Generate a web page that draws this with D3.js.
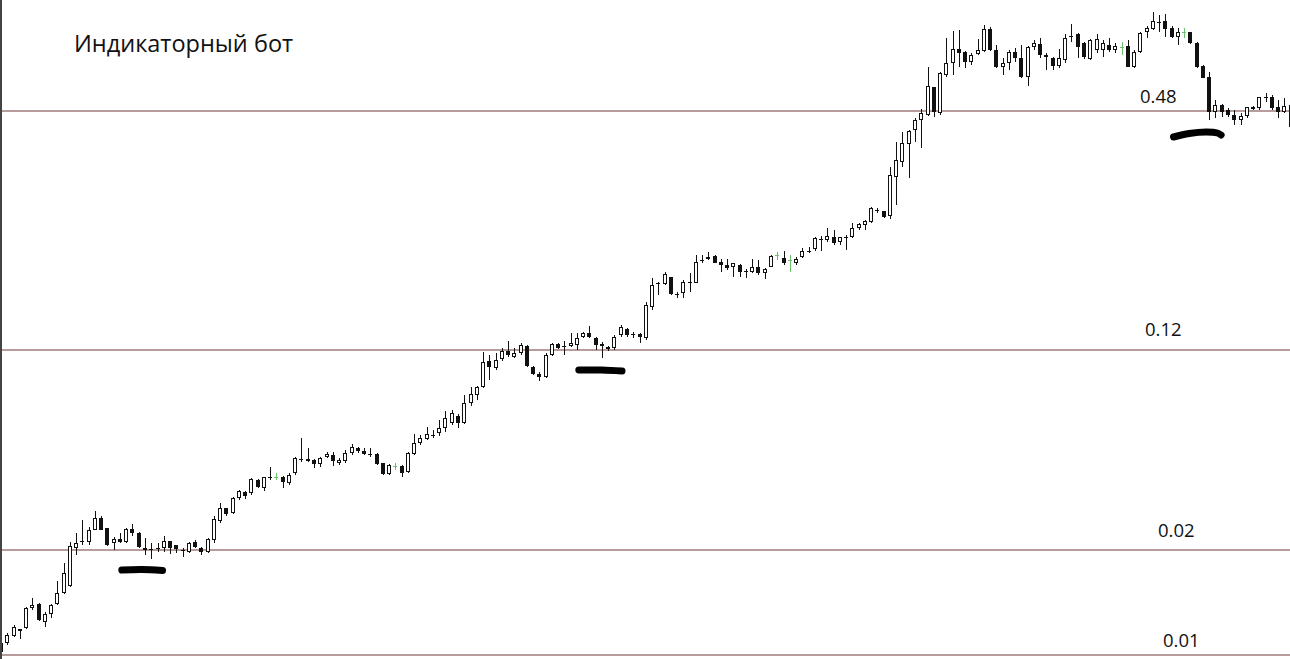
<!DOCTYPE html>
<html>
<head>
<meta charset="utf-8">
<script src="https://cdn.jsdelivr.net/npm/d3@7"></script>
<style>
  body { margin: 0; background: #fff; }
  svg { display: block; }
</style>
</head>
<body>
<div id="chart"></div>
<script>
// candles, values in chart points above the 0.01 level
const open = [
  3,12,19,26,27,47,51,33,41,51,
  62,69,107,114,113,125,137,127,112,116,
  113,126,122,107,106,107,107,114,110,105,
  103,113,107,103,115,134,147,142,157,163,
  162,175,167,178,178,178,172,182,196,196,
  195,191,198,200,192,194,202,207,204,201,
  201,192,181,189,189,183,201,212,216,220,
  222,227,232,239,232,252,260,268,294,287,
  296,304,298,302,309,288,281,278,300,311,
  309,309,310,318,322,317,311,308,307,320,
  326,321,321,317,348,372,371,378,361,362,
  373,372,395,396,399,393,390,388,390,384,
  383,388,382,388,400,397,395,392,398,404,
  406,416,415,418,413,418,418,427,430,433,
  445,444,439,478,493,511,525,535,540,568,
  542,580,592,606,603,593,601,604,626,605,
  588,592,603,597,578,608,611,600,597,589,
  595,619,621,612,596,605,605,610,605,608,
  609,588,603,623,626,633,634,627,618,623,
  623,612,589,578,543,550,545,540,535,539,
  548,547,558,558,548,543,550
];
const high = [
  14,22,30,26,48,57,52,43,51,74,
  92,113,122,135,128,144,139,127,118,122,
  127,131,123,117,112,112,119,114,110,107,
  113,115,108,117,139,152,147,158,165,164,
  177,176,178,188,182,179,182,198,217,207,
  196,198,203,203,197,205,211,208,207,207,
  202,192,191,192,190,203,221,220,228,225,
  235,244,245,241,260,268,269,303,300,302,
  307,314,307,312,310,289,283,302,312,312,
  314,322,322,323,329,318,313,309,320,330,
  327,323,322,353,377,373,383,378,363,375,
  382,400,400,403,400,396,396,392,391,386,
  396,395,387,400,403,404,400,398,407,408,
  418,419,427,425,418,420,432,432,435,448,
  447,444,488,513,523,525,537,546,588,568,
  583,617,624,625,604,602,616,630,628,610,
  597,605,607,610,609,615,617,602,598,606,
  621,631,622,613,616,621,615,617,612,613,
  615,605,623,629,643,640,641,629,627,627,
  623,613,590,583,555,551,547,545,542,548,
  549,558,562,560,555,557,552
];
const low = [
  0,10,18,16,26,45,34,28,37,50,
  61,68,100,110,110,125,125,109,105,112,
  112,119,107,100,96,103,103,101,102,98,
  102,107,100,102,112,132,139,141,155,156,
  160,167,164,175,175,167,170,180,193,193,
  187,188,197,189,190,192,200,202,200,198,
  190,180,180,185,178,182,200,210,215,217,
  219,223,230,227,231,249,255,267,275,285,
  294,298,297,300,288,280,274,277,299,306,
  300,308,305,317,317,305,297,304,305,318,
  318,317,312,315,345,360,370,360,357,357,
  363,372,392,395,392,383,385,378,378,377,
  382,380,376,388,395,390,383,390,397,402,
  404,404,413,410,410,405,417,425,425,432,
  442,437,436,450,488,477,513,507,539,538,
  540,578,580,588,587,590,600,603,604,587,
  580,585,593,577,569,605,597,585,585,587,
  592,613,597,596,595,602,598,603,602,600,
  588,587,602,617,625,623,618,617,610,617,
  611,587,577,535,537,538,538,530,530,537,
  545,545,553,545,537,542,525
];
const close = [
  12,20,28,24,47,50,35,41,50,62,
  82,109,112,114,125,137,125,110,116,113,
  126,122,108,105,106,107,114,107,106,105,
  112,108,103,116,136,147,141,157,164,159,
  176,168,178,178,178,173,180,197,196,194,
  191,197,201,194,195,202,208,204,201,201,
  191,181,190,189,182,202,212,217,221,220,
  227,237,242,232,252,261,268,293,288,295,
  304,300,302,310,289,281,278,300,311,307,
  309,312,317,322,318,310,309,306,318,328,
  320,321,318,350,370,372,381,361,361,373,
  373,393,395,398,392,390,387,392,383,384,
  388,382,386,399,400,392,395,396,404,404,
  417,416,419,412,418,418,427,431,434,447,
  445,438,480,495,512,524,535,542,569,543,
  582,592,606,602,593,600,605,626,605,588,
  592,603,597,578,608,612,600,598,589,597,
  617,619,608,598,615,616,612,605,609,608,
  588,603,622,627,634,632,626,618,623,623,
  612,588,577,543,550,543,540,535,539,548,
  546,558,558,547,543,549,528
];
// candles drawn in green
const greenBars = [44, 63, 124, 126, 179, 189];

// horizontal levels
const levelLabels = ["0.01", "0.02", "0.12", "0.48"];
const levelValues = [0, 105, 305, 544];

// hand drawn marks under the levels: [candle index, value]
const mark1 = [[19.3, 85], [22.5, 85.5], [25.8, 84.5]];
const mark2 = [[92.3, 285], [96, 285], [99.2, 284]];
const mark3 = [[187.3, 518], [189.8, 521.5], [192.5, 523], [194.3, 522], [194.9, 520]];

const title = "Индикаторный бот";

// ---- drawing ----
const width = 1290, height = 659;

const svg = d3.select('#chart').append('svg')
  .attr('width', width)
  .attr('height', height);

svg.append('rect').attr('width', width).attr('height', height).attr('fill', '#fff');

const x = d3.scaleLinear().domain([0, open.length - 1]).range([1, 1290.6]);
const y = d3.scaleLinear().domain([0, 655]).range([655, 0]);

// level lines + labels
const labelX = [1163, 1158, 1145, 1140];
const labelGap = [8, 13, 14, 8];

svg.append('g').selectAll('line')
  .data(levelValues)
  .join('line')
  .attr('x1', 0).attr('x2', width)
  .attr('y1', d => y(d)).attr('y2', d => y(d))
  .attr('stroke', '#a07a7a')
  .attr('stroke-width', 1.4);

svg.append('g').selectAll('text')
  .data(levelLabels)
  .join('text')
  .attr('x', (d, i) => labelX[i])
  .attr('y', (d, i) => y(levelValues[i]) - labelGap[i])
  .attr('font-family', '"Open Sans", sans-serif')
  .attr('font-size', 18.5)
  .attr('fill', '#111')
  .text(d => d);

// candles
const idx = d3.range(open.length);
const bodyW = 3;
const candles = svg.append('g').selectAll('g')
  .data(idx)
  .join('g')
  .attr('transform', i => 'translate(' + Math.round(x(i)) + ',0)');

candles.append('line')
  .attr('x1', 0.5).attr('x2', 0.5)
  .attr('y1', i => y(high[i]))
  .attr('y2', i => y(low[i]))
  .attr('stroke', i => greenBars.includes(i) ? '#6cbf6c' : '#111')
  .attr('stroke-width', 1);

candles.append('rect')
  .attr('x', -bodyW / 2)
  .attr('y', i => y(Math.max(open[i], close[i])) + 0.5)
  .attr('width', bodyW)
  .attr('height', i => Math.max(0.01, Math.abs(y(open[i]) - y(close[i])) - 1))
  .attr('fill', i => close[i] < open[i] ? '#111' : '#fff')
  .attr('stroke', i => greenBars.includes(i) ? '#6cbf6c' : '#111')
  .attr('stroke-width', 1)
  .attr('shape-rendering', 'crispEdges');

// marks
const markLine = d3.line()
  .x(d => x(d[0]))
  .y(d => y(d[1]))
  .curve(d3.curveCatmullRom);

svg.append('g').selectAll('path')
  .data([mark1, mark2, mark3])
  .join('path')
  .attr('d', markLine)
  .attr('fill', 'none')
  .attr('stroke', '#000')
  .attr('stroke-width', 7)
  .attr('stroke-linecap', 'round');

// title
svg.append('text')
  .attr('x', 74)
  .attr('y', 52)
  .attr('font-family', '"Open Sans", sans-serif')
  .attr('font-size', 23.5)
  .attr('fill', '#111')
  .text(title);

// left frame edge
svg.append('line')
  .attr('x1', 1).attr('x2', 1)
  .attr('y1', 0).attr('y2', height)
  .attr('stroke', '#444')
  .attr('stroke-width', 2);
</script>
</body>
</html>
